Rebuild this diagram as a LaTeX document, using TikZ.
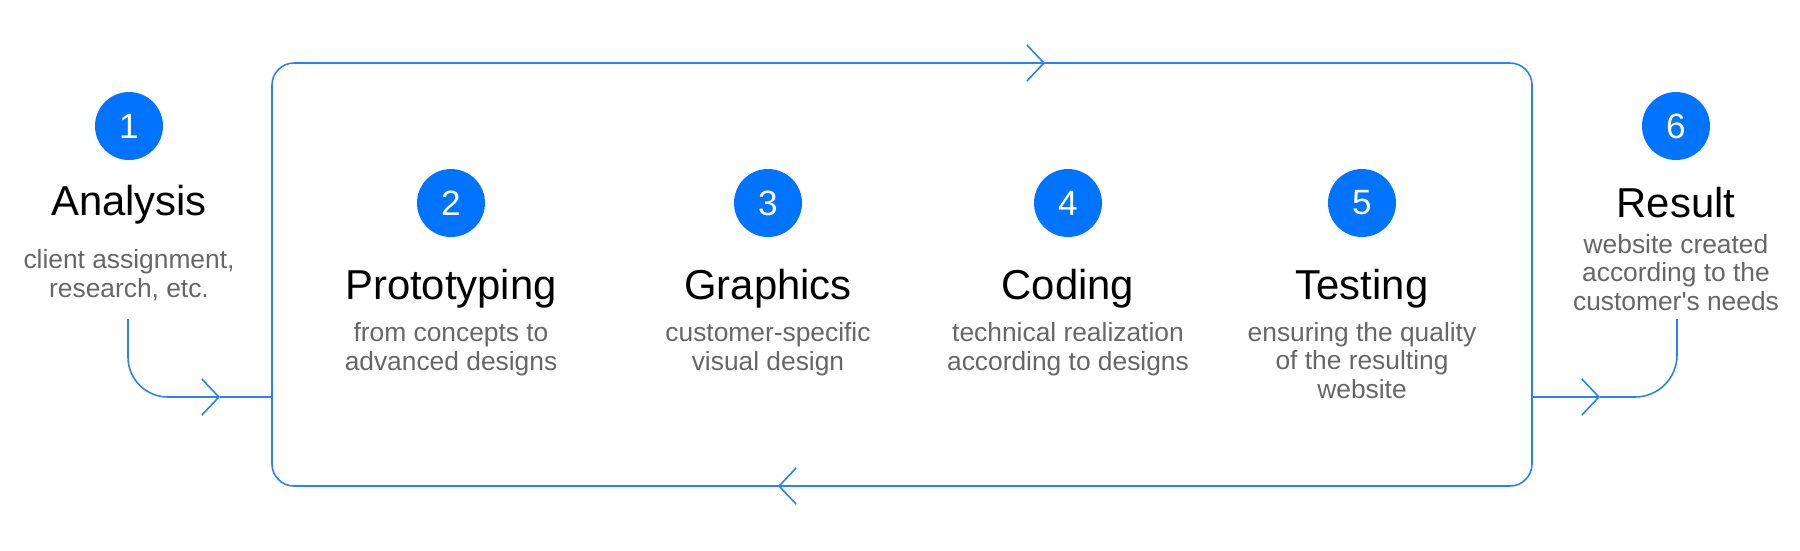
\documentclass[tikz,border=0pt]{standalone}
\usepackage{fontspec}
\setmainfont{Liberation Sans}
\usetikzlibrary{positioning, arrows.meta}

\definecolor{stepblue}{RGB}{0,115,255}
\definecolor{lineblue}{RGB}{38,128,255}
\definecolor{descgray}{RGB}{102,102,102}

\begin{document}
\begin{tikzpicture}[on grid,
		num/.style={circle, fill=stepblue, text=white, minimum size=0.68cm, inner sep=0pt, font=\fontsize{10}{12}\selectfont},
		title/.style={text=black, inner sep=0pt, font=\fontsize{11.9}{14}\selectfont},
		desc/.style={align=center, text=descgray, inner sep=0pt, font=\fontsize{7.5}{8.1}\selectfont},
		flow/.style={draw=lineblue, line width=0.45pt},
		barb/.style={-{Straight Barb[length=0.17cm, width=0.36cm]}}]
	\useasboundingbox (0,0) rectangle (18,-5.5);
	% loop box
	\node[flow, rectangle, rounded corners=0.22cm, outer sep=0pt, minimum width=12.6cm, minimum height=4.23cm] (loop) at (9.02,-2.745) {};
	\draw[flow, barb] ([xshift=7.0cm]loop.north west) -- ([xshift=7.73cm]loop.north west);
	\draw[flow, barb] ([xshift=-7.0cm]loop.south east) -- ([xshift=-7.54cm]loop.south east);
	% steps
	\node[num] (n1) at (1.29,-1.26) {1};
	\node[num] (n2) at (4.51,-2.03) {2};
	\node[num] (n3) [right=3.17 of n2] {3};
	\node[num] (n4) [right=3.00 of n3] {4};
	\node[num] (n5) [right=2.94 of n4] {5};
	\node[num] (n6) at (16.76,-1.26) {6};
	\node[title, below=0.89 of n1, anchor=base] (t1) {Analysis};
	\node[title, below=0.96 of n2, anchor=base] (t2) {Prototyping};
	\node[title, below=0.96 of n3, anchor=base] (t3) {Graphics};
	\node[title, below=0.96 of n4, anchor=base] (t4) {Coding};
	\node[title, below=0.96 of n5, anchor=base] (t5) {Testing};
	\node[title, below=0.91 of n6, anchor=base] (t6) {Result};
	% base of a desc is its last line
	\node[desc, below=0.82 of t1.base, anchor=base] (d1) {client assignment,\\research, etc.};
	\node[desc, below=0.71 of t2.base, anchor=base] (d2) {from concepts to\\advanced designs};
	\node[desc, below=0.71 of t3.base, anchor=base] (d3) {customer-specific\\visual design};
	\node[desc, below=0.71 of t4.base, anchor=base] (d4) {technical realization\\according to designs};
	\node[desc, below=0.99 of t5.base, anchor=base] (d5) {ensuring the quality\\of the resulting\\website};
	\node[desc, below=0.93 of t6.base, anchor=base] (d6) {website created\\according to the\\customer\textquotesingle s needs};
	% in and out
	\coordinate (a1) at (1.28,-3.19);
	\coordinate (m1) at (2.20,-3.97);
	\coordinate (e1) at (loop.west |- m1);
	\coordinate (s6) at (loop.east |- m1);
	\coordinate (m6) at (16.00,-3.97);
	\coordinate (a6) at (16.77,-3.19);
	\draw[flow, barb, rounded corners=0.4cm] (a1) |- (m1);
	\draw[flow] (m1) -- (e1);
	\draw[flow, barb] (s6) -- (m6);
	\draw[flow, rounded corners=0.42cm] (m6) -| (a6);
\end{tikzpicture}
\end{document}
